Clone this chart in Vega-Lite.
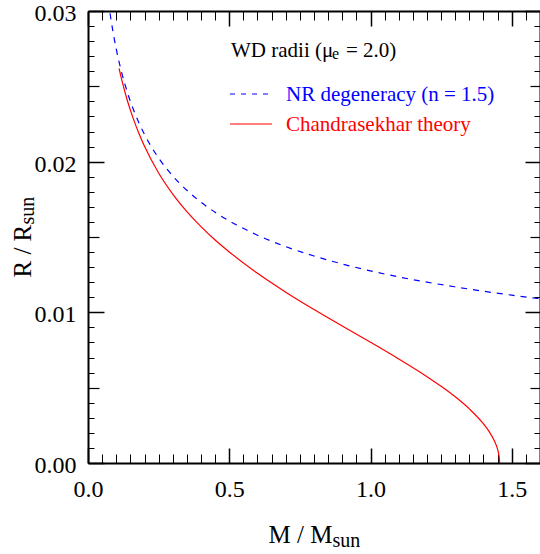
{
  "$schema": "https://vega.github.io/schema/vega-lite/v6.json",
  "width": 452,
  "height": 452,
  "autosize": {"type": "none"},
  "padding": {"left": 88, "top": 11, "right": 0, "bottom": 91},
  "background": "white",
  "config": {
    "view": {"stroke": null},
    "text": {"font": "Liberation Serif"},
    "axis": {"grid": false, "tickColor": "black", "domainColor": "black", "labelColor": "black", "labelFont": "Liberation Serif", "titleFont": "Liberation Serif", "titleFontWeight": "normal", "titleColor": "black"}
  },
  "datasets": {
    "nr": [
      {"M": 0.078, "R": 0.02985}, {"M": 0.08, "R": 0.0296}, {"M": 0.09, "R": 0.02846}, {"M": 0.1, "R": 0.02748},
      {"M": 0.12, "R": 0.02586}, {"M": 0.14, "R": 0.02456}, {"M": 0.16, "R": 0.02349}, {"M": 0.18, "R": 0.02259},
      {"M": 0.2, "R": 0.02181}, {"M": 0.25, "R": 0.02024}, {"M": 0.3, "R": 0.01905}, {"M": 0.35, "R": 0.0181},
      {"M": 0.4, "R": 0.01731}, {"M": 0.45, "R": 0.01664}, {"M": 0.5, "R": 0.01607}, {"M": 0.6, "R": 0.01512},
      {"M": 0.7, "R": 0.01436}, {"M": 0.8, "R": 0.01374}, {"M": 0.9, "R": 0.01321}, {"M": 1.0, "R": 0.01275},
      {"M": 1.1, "R": 0.01235}, {"M": 1.2, "R": 0.012}, {"M": 1.3, "R": 0.01169}, {"M": 1.4, "R": 0.0114},
      {"M": 1.5, "R": 0.01114}, {"M": 1.6, "R": 0.0109}
    ],
    "ch": [
      {"M": 0.11, "R": 0.02619}, {"M": 0.12, "R": 0.02539}, {"M": 0.14, "R": 0.02401}, {"M": 0.16, "R": 0.02287},
      {"M": 0.18, "R": 0.02188}, {"M": 0.2, "R": 0.02102}, {"M": 0.25, "R": 0.01925}, {"M": 0.3, "R": 0.01785},
      {"M": 0.35, "R": 0.01669}, {"M": 0.4, "R": 0.01569}, {"M": 0.45, "R": 0.0148}, {"M": 0.5, "R": 0.01401},
      {"M": 0.6, "R": 0.01259}, {"M": 0.7, "R": 0.01134}, {"M": 0.8, "R": 0.01019}, {"M": 0.9, "R": 0.009094},
      {"M": 1.0, "R": 0.008011}, {"M": 1.1, "R": 0.006903}, {"M": 1.2, "R": 0.00573}, {"M": 1.25, "R": 0.005091},
      {"M": 1.3, "R": 0.004391}, {"M": 1.35, "R": 0.003589}, {"M": 1.4, "R": 0.002595}, {"M": 1.42, "R": 0.002083},
      {"M": 1.44, "R": 0.001407}, {"M": 1.45, "R": 0.000901}, {"M": 1.455, "R": 0.000481}, {"M": 1.456, "R": 0.000341},
      {"M": 1.457, "R": 0}
    ]
  },
  "resolve": {"axis": {"x": "independent", "y": "independent"}},
  "layer": [
    {
      "data": {"name": "nr"},
      "mark": {"type": "line", "color": "blue", "strokeWidth": 1.2, "strokeDash": [6, 6], "interpolate": "monotone"},
      "encoding": {
        "x": {"field": "M", "type": "quantitative", "scale": {"domain": [0, 1.6], "nice": false},
          "axis": {"orient": "bottom", "values": [0, 0.5, 1, 1.5], "tickSize": -15, "tickWidth": 1.5, "domain": true, "domainWidth": 2, "labels": false,
            "title": "M / M", "titleX": 180, "titleY": 79, "titleAlign": "left", "titleBaseline": "alphabetic", "titleFontSize": 25, "titleAngle": 0}},
        "y": {"field": "R", "type": "quantitative", "scale": {"domain": [0, 0.03], "nice": false},
          "axis": {"orient": "left", "values": [0, 0.01, 0.02, 0.03], "tickSize": -16, "tickWidth": 1.5, "domain": true, "domainWidth": 2, "labels": false,
            "title": "R / R", "titleX": -58, "titleY": 266, "titleAlign": "left", "titleBaseline": "alphabetic", "titleFontSize": 25, "titleAngle": 270}}
      }
    },
    {
      "data": {"name": "ch"},
      "mark": {"type": "line", "color": "red", "strokeWidth": 1.2, "interpolate": "monotone"},
      "encoding": {
        "x": {"field": "M", "type": "quantitative", "scale": {"domain": [0, 1.6], "nice": false},
          "axis": {"orient": "bottom", "values": [0, 0.5, 1, 1.5], "format": ".1f", "ticks": false, "domain": false, "labelFlush": false, "labelPadding": 14, "labelBaseline": "top", "labelFontSize": 24, "labelFont": "Liberation Serif",
            "title": "sun", "titleX": 244, "titleY": 83, "titleAlign": "left", "titleBaseline": "alphabetic", "titleFontSize": 20, "titleAngle": 0}},
        "y": {"field": "R", "type": "quantitative", "scale": {"domain": [0, 0.03], "nice": false},
          "axis": {"orient": "left", "values": [0, 0.01, 0.02, 0.03], "format": ".2f", "ticks": false, "domain": false, "labelFlush": false, "labelPadding": 12, "labelAlign": "right", "labelBaseline": "alphabetic", "labelOffset": 9.5, "labelFontSize": 24, "labelFont": "Liberation Serif",
            "title": "sun", "titleX": -55, "titleY": 213, "titleAlign": "left", "titleBaseline": "alphabetic", "titleFontSize": 20, "titleAngle": 270}}
      }
    },
    {
      "data": {"values": [{"x0": 0.5027, "x1": 0.6513, "y": 0.02449}]},
      "mark": {"type": "rule", "color": "blue", "strokeWidth": 1.2, "strokeDash": [5, 6]},
      "encoding": {
        "x": {"field": "x0", "type": "quantitative", "scale": {"domain": [0, 1.6], "nice": false},
          "axis": {"orient": "top", "values": [0, 0.5, 1, 1.5], "tickSize": -15, "tickWidth": 1.5, "domain": true, "domainWidth": 2, "labels": false, "title": null}},
        "x2": {"field": "x1"},
        "y": {"field": "y", "type": "quantitative", "scale": {"domain": [0, 0.03], "nice": false},
          "axis": {"orient": "right", "values": [0, 0.01, 0.02, 0.03], "tickSize": -15, "tickWidth": 1.5, "domain": true, "domainWidth": 2, "labels": false, "title": null}}
      }
    },
    {
      "data": {"values": [{"x0": 0.5027, "x1": 0.6513, "y": 0.0225}]},
      "mark": {"type": "rule", "color": "red", "strokeWidth": 1.2},
      "encoding": {
        "x": {"field": "x0", "type": "quantitative", "scale": {"domain": [0, 1.6], "nice": false},
          "axis": {"orient": "bottom", "values": [0, 0.05, 0.1, 0.15, 0.2, 0.25, 0.3, 0.35, 0.4, 0.45, 0.5, 0.55, 0.6, 0.65, 0.7, 0.75, 0.8, 0.85, 0.9, 0.95, 1, 1.05, 1.1, 1.15, 1.2, 1.25, 1.3, 1.35, 1.4, 1.45, 1.5, 1.55, 1.6], "tickSize": -9, "tickWidth": 1, "domain": false, "labels": false, "title": null}},
        "x2": {"field": "x1"},
        "y": {"field": "y", "type": "quantitative", "scale": {"domain": [0, 0.03], "nice": false},
          "axis": {"orient": "left", "values": [0, 0.001, 0.002, 0.003, 0.004, 0.005, 0.006, 0.007, 0.008, 0.009, 0.01, 0.011, 0.012, 0.013, 0.014, 0.015, 0.016, 0.017, 0.018, 0.019, 0.02, 0.021, 0.022, 0.023, 0.024, 0.025, 0.026, 0.027, 0.028, 0.029, 0.03], "tickSize": -6, "tickWidth": 1, "domain": false, "labels": false, "title": null}}
      }
    },
    {
      "data": {"values": [{"label": "WD radii (μ", "x": 0.5062, "y": 0.026967}, {"label": " = 2.0)", "x": 0.9133, "y": 0.026967}]},
      "mark": {"type": "text", "color": "black", "font": "Liberation Serif", "fontSize": 21, "align": "left", "baseline": "alphabetic"},
      "encoding": {
        "text": {"field": "label"},
        "x": {"field": "x", "type": "quantitative", "scale": {"domain": [0, 1.6], "nice": false},
          "axis": {"orient": "top", "values": [0, 0.05, 0.1, 0.15, 0.2, 0.25, 0.3, 0.35, 0.4, 0.45, 0.5, 0.55, 0.6, 0.65, 0.7, 0.75, 0.8, 0.85, 0.9, 0.95, 1, 1.05, 1.1, 1.15, 1.2, 1.25, 1.3, 1.35, 1.4, 1.45, 1.5, 1.55, 1.6], "tickSize": -9, "tickWidth": 1, "domain": false, "labels": false, "title": null}},
        "y": {"field": "y", "type": "quantitative", "scale": {"domain": [0, 0.03], "nice": false},
          "axis": {"orient": "right", "values": [0, 0.001, 0.002, 0.003, 0.004, 0.005, 0.006, 0.007, 0.008, 0.009, 0.01, 0.011, 0.012, 0.013, 0.014, 0.015, 0.016, 0.017, 0.018, 0.019, 0.02, 0.021, 0.022, 0.023, 0.024, 0.025, 0.026, 0.027, 0.028, 0.029, 0.03], "tickSize": -6, "tickWidth": 1, "domain": false, "labels": false, "title": null}}
      }
    },
    {
      "data": {"values": [{"label": "e", "x": 0.8637, "y": 0.026781}]},
      "mark": {"type": "text", "color": "black", "font": "Liberation Serif", "fontSize": 16, "align": "left", "baseline": "alphabetic"},
      "encoding": {
        "text": {"field": "label"},
        "x": {"field": "x", "type": "quantitative", "scale": {"domain": [0, 1.6], "nice": false}, "axis": null},
        "y": {"field": "y", "type": "quantitative", "scale": {"domain": [0, 0.03], "nice": false},
          "axis": {"orient": "left", "values": [0.005, 0.015, 0.025], "tickSize": -11, "tickWidth": 1.2, "domain": false, "labels": false, "title": null}}
      }
    },
    {
      "data": {"values": [{"label": "NR degeneracy (n = 1.5)", "x": 0.7009, "y": 0.024027}]},
      "mark": {"type": "text", "color": "blue", "font": "Liberation Serif", "fontSize": 21, "align": "left", "baseline": "alphabetic"},
      "encoding": {
        "text": {"field": "label"},
        "x": {"field": "x", "type": "quantitative", "scale": {"domain": [0, 1.6], "nice": false}, "axis": null},
        "y": {"field": "y", "type": "quantitative", "scale": {"domain": [0, 0.03], "nice": false},
          "axis": {"orient": "right", "values": [0.005, 0.015, 0.025], "tickSize": -10, "tickWidth": 1.2, "domain": false, "labels": false, "title": null}}
      }
    },
    {
      "data": {"values": [{"label": "Chandrasekhar theory", "x": 0.7009, "y": 0.022035}]},
      "mark": {"type": "text", "color": "red", "font": "Liberation Serif", "fontSize": 21, "align": "left", "baseline": "alphabetic"},
      "encoding": {
        "text": {"field": "label"},
        "x": {"field": "x", "type": "quantitative", "scale": {"domain": [0, 1.6], "nice": false}, "axis": null},
        "y": {"field": "y", "type": "quantitative", "scale": {"domain": [0, 0.03], "nice": false}, "axis": null}
      }
    }
  ]
}
